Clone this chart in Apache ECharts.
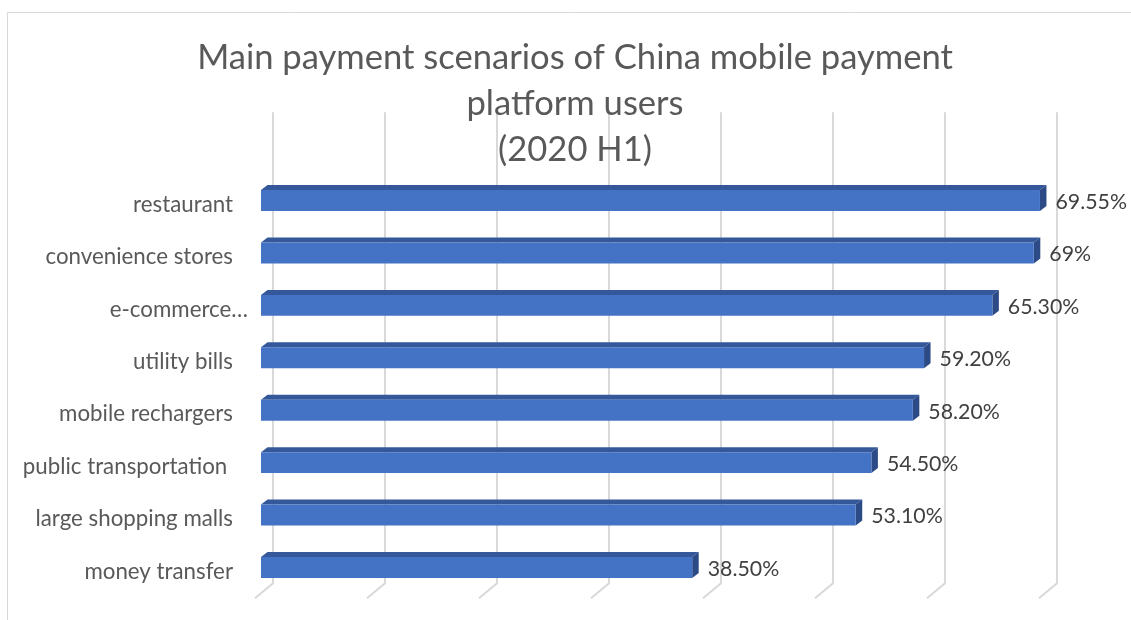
<!DOCTYPE html>
<html>
<head>
<meta charset="utf-8">
<script src="https://cdn.jsdelivr.net/npm/echarts@6/dist/echarts.min.js"></script>
<style>
  html, body { margin: 0; padding: 0; background: #ffffff; }
  #chart { width: 1131px; height: 620px; }
</style>
</head>
<body>
<div id="chart"></div>
<script>
// Payment scenarios, top to bottom
const scenarios = [
  'restaurant',
  'convenience stores',
  'e-commerce…',
  'utility bills',
  'mobile rechargers',
  'public transportation ',
  'large shopping malls',
  'money transfer'
];
// Share of users (%), kept as written in the data labels
const shareText = ['69.55', '69', '65.30', '59.20', '58.20', '54.50', '53.10', '38.50'];
// Value-axis gridline positions (%)
const valueTicks = [0, 10, 20, 30, 40, 50, 60, 70];

const FONT = 'Lato, "Noto Sans", sans-serif';
const FRONT = '#4472c4';
const TOP = '#34589a';
const SIDE = '#2b4a86';
const GRID_LINE = '#d9d9d9';

// depth offsets of the 3D look
const BAR_DX = 6.5, BAR_DY = 5;

function renderGridLine(params, api) {
  const cs = params.coordSys;
  const x = api.coord([api.value(0), 0])[0];
  const bottom = cs.y + cs.height;
  return {
    type: 'polyline',
    shape: {
      points: [
        [x + 12, cs.y - 62],
        [x + 12, bottom - 10.5],
        [x - 6, bottom + 4.5]
      ]
    },
    style: { stroke: GRID_LINE, lineWidth: 2, fill: null },
    silent: true
  };
}

function renderBar(params, api) {
  const v = api.value(0);
  const i = api.value(1);
  const end = api.coord([v, i]);
  const start = api.coord([0, i]);
  const h = api.size([0, 1])[1] * 0.4;
  const top = end[1] - h / 2;
  const bot = end[1] + h / 2;
  return {
    type: 'group',
    children: [
      {
        type: 'polygon',
        shape: { points: [[start[0], top], [start[0] + BAR_DX, top - BAR_DY], [end[0] + BAR_DX, top - BAR_DY], [end[0], top]] },
        style: { fill: TOP }
      },
      {
        type: 'polygon',
        shape: { points: [[end[0], top], [end[0] + BAR_DX, top - BAR_DY], [end[0] + BAR_DX, bot - BAR_DY], [end[0], bot]] },
        style: { fill: SIDE }
      },
      {
        type: 'rect',
        shape: { x: start[0], y: top, width: end[0] - start[0], height: h },
        style: { fill: FRONT }
      },
      {
        type: 'text',
        x: end[0] + 15.5,
        y: end[1] + 1.5,
        style: {
          text: shareText[params.dataIndex] + '%',
          fill: '#404040',
          fontSize: 21.3,
          fontFamily: FONT,
          align: 'left',
          verticalAlign: 'middle'
        }
      }
    ]
  };
}

const chart = echarts.init(document.getElementById('chart'), null, { renderer: 'canvas' });

chart.setOption({
  backgroundColor: '#ffffff',
  animation: false,
  title: {
    text: 'Main payment scenarios of China mobile payment\nplatform users\n(2020 H1)',
    left: 570,
    top: 30,
    textAlign: 'center',
    textStyle: {
      fontFamily: FONT,
      fontSize: 34.6,
      fontWeight: 'normal',
      color: '#595959',
      lineHeight: 46
    }
  },
  graphic: [
    {
      type: 'rect',
      shape: { x: 7.5, y: 12.5, width: 1300, height: 800 },
      style: { fill: null, stroke: '#d9d9d9', lineWidth: 1 },
      silent: true,
      z: -10
    }
  ],
  grid: {
    left: 261,
    top: 174.3,
    width: 784,
    height: 419.4,
    containLabel: false
  },
  xAxis: {
    type: 'value',
    min: 0,
    max: 70,
    interval: 10,
    show: false
  },
  yAxis: {
    type: 'category',
    inverse: true,
    data: scenarios,
    axisLine: { show: false },
    axisTick: { show: false },
    splitLine: { show: false },
    axisLabel: {
      margin: 13,
      color: '#595959',
      fontFamily: FONT,
      fontSize: 22.3,
      formatter: function (val) {
        return val.indexOf('…') >= 0 ? '{w|' + val + '}' : '{n|' + val + '}';
      },
      rich: {
        n: { padding: [8, 15, 0, 0], color: '#595959', fontFamily: FONT, fontSize: 22.3 },
        w: { padding: [8, 0, 0, 0], color: '#595959', fontFamily: FONT, fontSize: 22.3 }
      }
    }
  },
  series: [
    {
      type: 'custom',
      name: 'gridlines',
      renderItem: renderGridLine,
      data: valueTicks.map(function (t) { return [t, 0]; }),
      encode: { x: 0, y: 1 },
      clip: false,
      silent: true,
      z: 1
    },
    {
      type: 'custom',
      name: 'share',
      renderItem: renderBar,
      data: shareText.map(function (s, i) { return [Number(s), i]; }),
      encode: { x: 0, y: 1 },
      clip: false,
      z: 2
    }
  ]
});
</script>
</body>
</html>
